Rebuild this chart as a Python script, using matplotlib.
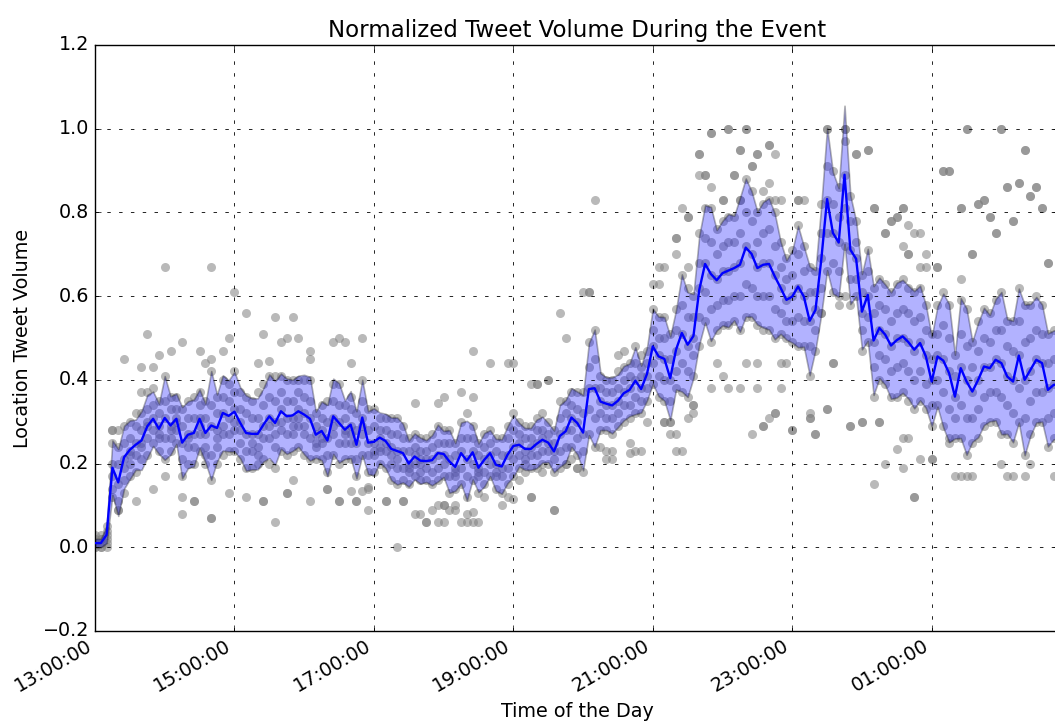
import numpy as np
import matplotlib
matplotlib.use('Agg')
import matplotlib.pyplot as plt
import matplotlib.dates as mdates

plt.style.use('classic')

START = np.datetime64('2015-06-01T13:00')
STEP = np.timedelta64(5, 'm')

# mean normalized volume per 5-minute bin (13:00 -> ~02:50)
mean_volume = [
    0.01, 0.01, 0.03, 0.19, 0.155, 0.215, 0.233, 0.245, 0.255, 0.289, 0.307, 0.283,
    0.309, 0.291, 0.307, 0.25, 0.269, 0.273, 0.307, 0.273, 0.291, 0.285, 0.321, 0.314,
    0.324, 0.297, 0.273, 0.271, 0.271, 0.293, 0.313, 0.297, 0.325, 0.313, 0.315, 0.325,
    0.317, 0.307, 0.269, 0.278, 0.255, 0.313, 0.297, 0.281, 0.293, 0.245, 0.31, 0.25,
    0.252, 0.262, 0.254, 0.235, 0.23, 0.225, 0.2, 0.217, 0.207, 0.206, 0.208, 0.225,
    0.223, 0.205, 0.192, 0.225, 0.207, 0.227, 0.19, 0.209, 0.225, 0.197, 0.193, 0.221,
    0.242, 0.245, 0.235, 0.235, 0.247, 0.257, 0.25, 0.229, 0.266, 0.277, 0.31, 0.297,
    0.274, 0.378, 0.38, 0.348, 0.343, 0.339, 0.35, 0.368, 0.376, 0.398, 0.378, 0.414,
    0.48, 0.456, 0.45, 0.404, 0.472, 0.512, 0.484, 0.505, 0.615, 0.677, 0.653, 0.638,
    0.655, 0.661, 0.667, 0.675, 0.716, 0.701, 0.667, 0.675, 0.677, 0.647, 0.62, 0.591,
    0.599, 0.623, 0.599, 0.541, 0.567, 0.687, 0.832, 0.751, 0.728, 0.89, 0.711, 0.689,
    0.563, 0.603, 0.494, 0.524, 0.508, 0.482, 0.495, 0.504, 0.49, 0.472, 0.488, 0.456,
    0.396, 0.456, 0.446, 0.416, 0.36, 0.428, 0.396, 0.372, 0.4, 0.432, 0.428, 0.448,
    0.44, 0.408, 0.396, 0.458, 0.4, 0.424, 0.448, 0.44, 0.376, 0.388, 0.39,
]

# standard deviation per bin (band = mean +/- std)
std_volume = [
    0.01, 0.01, 0.02, 0.065, 0.08, 0.075, 0.07, 0.06, 0.07, 0.075, 0.065, 0.06,
    0.1, 0.07, 0.06, 0.085, 0.08, 0.08, 0.07, 0.07, 0.13, 0.08, 0.09, 0.085,
    0.095, 0.085, 0.09, 0.085, 0.085, 0.088, 0.1, 0.1, 0.09, 0.09, 0.085, 0.085,
    0.095, 0.1, 0.055, 0.07, 0.085, 0.09, 0.095, 0.07, 0.08, 0.08, 0.09, 0.075,
    0.08, 0.06, 0.065, 0.075, 0.08, 0.07, 0.055, 0.055, 0.055, 0.05, 0.06, 0.068,
    0.055, 0.075, 0.057, 0.073, 0.095, 0.065, 0.058, 0.064, 0.055, 0.062, 0.065, 0.068,
    0.074, 0.052, 0.05, 0.05, 0.058, 0.055, 0.047, 0.05, 0.074, 0.075, 0.07, 0.075,
    0.09, 0.11, 0.14, 0.068, 0.063, 0.067, 0.063, 0.065, 0.063, 0.08, 0.056, 0.063,
    0.09, 0.095, 0.1, 0.1, 0.095, 0.14, 0.125, 0.1, 0.13, 0.14, 0.16, 0.12,
    0.125, 0.135, 0.125, 0.16, 0.165, 0.15, 0.135, 0.15, 0.157, 0.15, 0.11, 0.095,
    0.11, 0.145, 0.12, 0.13, 0.095, 0.13, 0.17, 0.145, 0.13, 0.165, 0.13, 0.09,
    0.09, 0.11, 0.13, 0.12, 0.12, 0.127, 0.137, 0.135, 0.135, 0.14, 0.137, 0.123,
    0.107, 0.12, 0.16, 0.165, 0.1, 0.167, 0.175, 0.12, 0.137, 0.14, 0.127, 0.145,
    0.17, 0.137, 0.145, 0.16, 0.18, 0.157, 0.15, 0.14, 0.135, 0.13, 0.13,
]

# per-location values (x100), one row per hour, bins separated by ';'
scatter_rows = [
    "0 1 2 0 1 3;0 1 2 3 0 2;1 3 5 2 0 4;12 17 20 25 28 14;9 11 15 20 24 28;13 16 21 25 29 19;"
    "17 20 23 26 30 22;18 22 25 29 32 11;21 25 28 32 37 24;22 26 30 33 37 29;25 28 31 34 38 14;23 26 29 32 35 27",
    "21 26 31 35 41 17;23 26 29 33 36 28;25 28 31 33 36 30;17 21 25 29 33 12;20 24 27 31 35 26;20 24 27 31 36 11;"
    "23 27 31 34 37 29;20 24 27 31 35 22;16 22 29 34 42 7;20 24 28 32 36 26;22 27 32 36 40 29;23 27 31 35 39 13",
    "23 28 33 37 42 30;21 25 30 33 37 28;19 23 27 32 36 12;19 23 27 31 35 25;20 24 27 31 37 22;21 26 29 34 39 11;"
    "20 26 31 36 41 29;19 24 30 35 41 27;23 28 33 37 41 30;22 27 31 35 40 13;23 27 31 35 40 29;24 29 33 37 40 31",
    "22 27 32 36 40 29;21 26 31 35 40 11;21 25 27 29 32 24;21 25 28 31 34 26;18 22 26 30 35 14;22 27 31 35 39 29;"
    "20 25 30 34 39 11;21 25 28 31 34 27;21 25 29 33 36 27;17 21 25 28 32 11;22 27 31 35 40 29;18 22 25 28 33 14",
    "18 22 25 29 33 23;20 23 26 28 31 24;19 23 25 28 31 11;16 20 24 27 31 22;15 19 23 27 31 21;16 19 23 26 29 11;"
    "15 18 20 23 26 19;17 20 22 24 27 8;16 18 21 23 26 20;16 19 21 23 26 6;15 18 21 24 27 9;16 19 22 25 29 6",
    "17 20 22 25 28 10;13 17 21 25 28 9;14 17 19 22 25 18;15 19 23 26 30 6;12 17 21 26 32 8;16 20 23 26 29 6;"
    "13 17 19 22 25 18;15 18 21 24 27 12;17 20 22 25 28 44;14 17 20 23 26 18;13 17 19 22 26 10;15 19 22 26 29 12",
    "17 21 24 28 32 44;19 22 25 27 30 16;18 21 23 26 29 20;19 22 24 26 29 12;19 22 25 28 31 39;20 23 26 28 32 18;"
    "20 23 25 27 30 40;18 21 23 25 28 9;19 23 27 31 35 56;20 24 28 32 35 50;24 28 31 34 37 21;22 26 30 33 37 19",
    "18 23 27 32 37 61;27 33 38 43 49 61;24 31 38 45 52 83;28 32 35 38 41 24;28 31 34 37 40 23;27 31 34 37 40 21;"
    "29 32 35 38 42 46;30 34 37 40 43 47;31 34 38 41 44 25;32 36 40 44 48 23;32 35 38 41 43 46;35 38 41 44 47 30",
    "39 44 48 52 57 63;36 41 46 50 55 67;35 40 45 50 55 30;30 35 40 45 51 27;38 42 47 52 57 74;37 44 51 58 65 23;"
    "36 42 48 55 62 79;41 46 50 55 60 34;48 55 62 68 75 94;54 61 68 74 81 89;49 57 65 73 81 99;52 58 64 70 76 44",
    "53 59 66 72 78 83;53 59 66 73 79 100;54 60 67 73 79 89;52 60 68 75 83 95;55 63 72 80 88 100;55 62 70 78 85 91;"
    "53 60 67 73 80 94;52 60 68 75 82 29;52 60 68 76 83 96;50 57 65 72 80 32;51 56 62 67 73 44;50 54 59 64 69 44",
    "49 54 60 65 71 28;48 55 62 70 77 83;48 54 60 66 72 83;41 48 54 61 67 31;47 52 57 61 66 27;56 62 69 75 82 56;"
    "66 75 83 91 100 33;61 68 75 82 90 44;60 66 73 79 86 58;72 81 89 97 100 60;58 64 71 78 84 29;60 64 69 73 78 94",
    "47 52 56 61 65 30;49 55 60 66 71 95;36 43 49 56 62 81;40 46 52 58 64 30;39 45 51 57 63 75;36 42 48 54 61 78;"
    "36 43 50 56 63 79;37 44 50 57 64 81;35 42 49 56 62 70;33 40 47 54 61 12;35 42 49 55 62 75;33 39 46 52 58 67",
    "29 34 40 45 51 21;34 40 46 51 58 67;29 37 45 53 61 90;25 33 42 50 58 90;26 31 36 41 46 17;26 34 43 51 59 81;"
    "22 31 40 48 57 100;25 31 37 43 49 70;26 33 40 47 54 82;29 36 43 50 57 83;30 37 43 49 56 79;30 37 45 52 59 75",
    "27 36 44 52 61 100;27 34 41 48 54 86;25 32 40 47 54 78;30 38 46 54 62 87;22 31 40 49 58 95;27 35 42 50 58 84;"
    "30 37 45 52 60 86;30 37 44 51 58 81;24 31 38 44 51 68;26 32 39 45 52 17;26 32 39 45 52 20",
]

# isolated points away from the band (bin index, value)
outlier_bin = [
    12, 20, 24, 26, 9, 15, 13, 18, 5, 11, 20, 22, 23, 8, 10, 19, 3, 4, 15, 17, 20,
    31, 34, 29, 32, 33, 35, 37, 37, 41, 42, 43, 46, 44, 28, 30, 31, 29, 33, 34, 40,
    42, 45, 44, 46, 47, 47, 50, 52, 53, 65, 71, 78, 75, 76, 60, 63, 65, 55, 59, 57,
    60, 64, 66, 56, 62, 62, 65, 59, 60, 79, 72, 75, 106, 104, 104, 105, 106, 101, 102,
    100, 100, 98, 102, 97, 85, 99, 98, 100, 100, 103, 103, 102, 106, 89, 88, 92, 94, 81,
    83, 109, 112, 126, 129, 111, 114, 116, 117, 131, 133, 113, 110, 116, 115, 108, 111,
    117, 118, 121, 134, 113, 115, 117, 116, 120, 123, 123, 124, 130, 132, 135, 126, 127,
    112, 114, 108, 109, 111, 114, 118, 150, 156, 160, 146, 147, 157, 159, 162, 161, 152,
    153, 149, 163, 154, 158, 155, 151, 164, 139, 138, 137, 136, 140, 141, 139, 140, 142,
    143, 145, 149, 149, 150, 151, 157, 158, 160, 141, 136, 139, 144, 138, 139, 140, 142,
    147, 156, 161, 134,
]
outlier_value = [
    0.67, 0.67, 0.61, 0.56, 0.51, 0.49, 0.47, 0.47, 0.45, 0.46, 0.45, 0.47, 0.50, 0.43,
    0.43, 0.44, 0.28, 0.09, 0.08, 0.11, 0.07, 0.55, 0.55, 0.51, 0.49, 0.50, 0.50, 0.47,
    0.45, 0.49, 0.50, 0.49, 0.50, 0.44, 0.44, 0.445, 0.06, 0.11, 0.13, 0.16, 0.14, 0.11,
    0.11, 0.135, 0.135, 0.145, 0.09, 0.11, 0.0, 0.11, 0.47, 0.44, 0.40, 0.39, 0.39, 0.36,
    0.37, 0.36, 0.345, 0.345, 0.06, 0.06, 0.06, 0.06, 0.08, 0.09, 0.10, 0.085, 0.10, 0.10,
    0.09, 0.115, 0.12, 0.99, 0.94, 0.89, 0.89, 0.86, 0.81, 0.79, 0.74, 0.70, 0.67, 0.67,
    0.63, 0.61, 0.30, 0.30, 0.27, 0.23, 0.34, 0.32, 0.31, 0.38, 0.23, 0.21, 0.225, 0.23,
    0.20, 0.19, 1.0, 1.0, 1.0, 1.0, 0.95, 0.94, 0.96, 0.94, 0.94, 0.95, 0.91, 0.89, 0.87,
    0.85, 0.83, 0.83, 0.83, 0.83, 0.83, 0.81, 0.27, 0.29, 0.32, 0.31, 0.28, 0.31, 0.32,
    0.27, 0.29, 0.30, 0.30, 0.33, 0.44, 0.44, 0.44, 0.41, 0.38, 0.38, 0.38, 0.38, 1.0,
    1.0, 0.95, 0.90, 0.90, 0.86, 0.87, 0.86, 0.84, 0.82, 0.83, 0.81, 0.81, 0.79, 0.78,
    0.75, 0.70, 0.68, 0.81, 0.79, 0.78, 0.75, 0.77, 0.75, 0.72, 0.70, 0.67, 0.70, 0.67,
    0.64, 0.17, 0.17, 0.17, 0.17, 0.17, 0.17, 0.12, 0.20, 0.19, 0.21, 0.235, 0.26, 0.26,
    0.21, 0.26, 0.20, 0.20, 0.15,
]

times = START + STEP * np.arange(len(mean_volume))
mean_arr = np.array(mean_volume)
std_arr = np.array(std_volume)

pts_t, pts_v = [], []
for r, row in enumerate(scatter_rows):
    for j, cell in enumerate(row.split(';')):
        for v in cell.split():
            pts_t.append(times[12 * r + j])
            pts_v.append(int(v) / 100.0)
for k, v in zip(outlier_bin, outlier_value):
    pts_t.append(times[k])
    pts_v.append(v)

fig = plt.figure(figsize=(10.55, 7.28), dpi=100, facecolor='white')
ax = fig.add_axes([95 / 1055, 97 / 728, 964.5 / 1055, 586 / 728])

ax.plot(np.array(pts_t), pts_v, 'o', color='gray', alpha=0.55, ms=6.5, mew=0, zorder=1)
ax.fill_between(times, mean_arr - std_arr, mean_arr + std_arr,
                facecolor='blue', edgecolor='black', alpha=0.3, lw=1.2, zorder=2)
ax.plot(times, mean_arr, color='blue', lw=1.7, zorder=3)

ax.set_xlim(times[0], times[-1])
ax.set_ylim(-0.2, 1.2)
ax.grid(True, linestyle=(0, (2.5, 6)), linewidth=0.6, color='black')
ax.xaxis.set_major_locator(mdates.HourLocator(byhour=range(1, 24, 2)))
ax.xaxis.set_major_formatter(mdates.DateFormatter('%H:%M:%S'))
ax.tick_params(labelsize=13.8)
for lbl in ax.get_xticklabels():
    lbl.set_rotation(30)
    lbl.set_ha('right')

ax.set_title('Normalized Tweet Volume During the Event', fontsize=16.5, pad=6)
ax.set_xlabel('Time of the Day', fontsize=13.8, labelpad=4)
ax.set_ylabel('Location Tweet Volume', fontsize=13.8, labelpad=8)

fig.savefig('out.png', dpi=100, facecolor='white')
